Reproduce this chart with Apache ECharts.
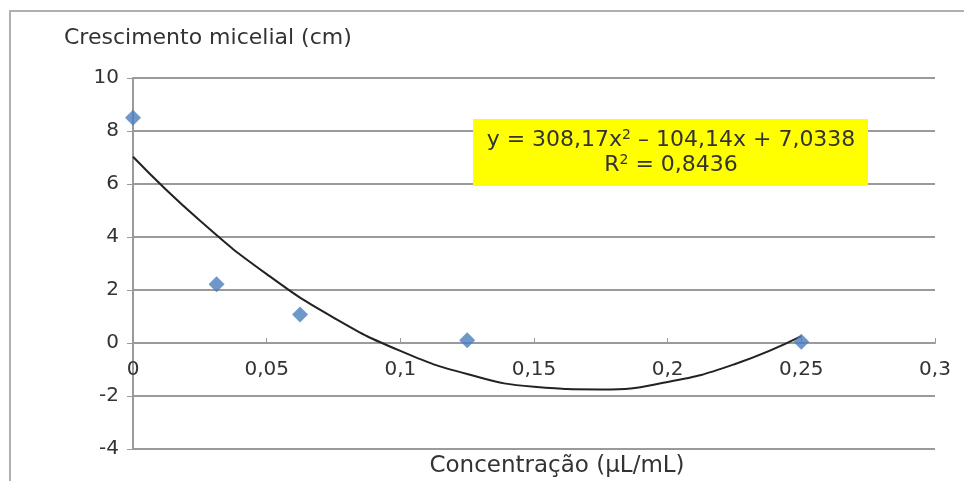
<!DOCTYPE html>
<html><head><meta charset="utf-8">
<script src="https://cdn.jsdelivr.net/npm/echarts@6/dist/echarts.min.js"></script>
<style>html,body{margin:0;padding:0;background:#fff}#c{width:964px;height:481px}</style>
</head><body><div id="c"></div>
<script>
// Observed data points
var concX = [0, 0.03125, 0.0625, 0.125, 0.25];
var growthY = [8.5, 2.22, 1.08, 0.1, 0.05];
// Trend line
var trendX = [0, 0.025, 0.05, 0.075, 0.1, 0.125, 0.15, 0.175, 0.2, 0.225, 0.25];
var trendY = [7.03, 4.62, 2.6, 0.96, -0.3, -1.17, -1.65, -1.75, -1.47, -0.8, 0.26];
var xTicks = [0, 0.05, 0.1, 0.15, 0.2, 0.25, 0.3];
var yTicks = [-4, -2, 0, 2, 4, 6, 8, 10];
var yTitle = 'Crescimento micelial (cm)';
var xTitle = 'Concentração (µL/mL)';
var eqLine1 = 'y = 308,17x';
var eqLine1b = ' – 104,14x + 7,0338';
var eqLine2 = 'R';
var eqLine2b = ' = 0,8436';

var font = '"DejaVu Sans", Verdana, sans-serif';
var scatterData = concX.map(function (x, i) { return [x, growthY[i]]; });
var trendData = trendX.map(function (x, i) { return [x, trendY[i]]; });

var chart = echarts.init(document.getElementById('c'));
chart.setOption({
  animation: false,
  backgroundColor: '#fff',
  grid: { left: 133, right: 29, top: 78, bottom: 32, containLabel: false },
  xAxis: {
    type: 'value', min: xTicks[0], max: xTicks[xTicks.length - 1], interval: 0.05,
    axisLine: { onZero: true, lineStyle: { color: '#9a9a9a', width: 2 } },
    axisTick: { show: true, inside: true, length: 5, lineStyle: { color: '#9a9a9a' } },
    splitLine: { show: false },
    axisLabel: {
      color: '#333', fontFamily: font, fontSize: 20, margin: -89,
      formatter: function (v) { return String(+v.toFixed(2)).replace('.', ','); }
    }
  },
  yAxis: {
    type: 'value', min: yTicks[0], max: yTicks[yTicks.length - 1], interval: 2,
    axisLine: { show: true, lineStyle: { color: '#9a9a9a', width: 2 } },
    axisTick: { show: true, length: 6, lineStyle: { color: '#9a9a9a' } },
    splitLine: { show: true, lineStyle: { color: '#9a9a9a', width: 2 } },
    axisLabel: { color: '#333', fontFamily: font, fontSize: 20, margin: 14 }
  },
  series: [
    {
      type: 'line', data: trendData, smooth: true, symbol: 'none',
      lineStyle: { color: '#222', width: 2 }, z: 3
    },
    {
      type: 'scatter', data: scatterData, symbol: 'diamond', symbolSize: 16,
      itemStyle: { color: '#4a7ebb' }, z: 4
    }
  ],
  graphic: [
    { type: 'rect', shape: { x: 10, y: 11, width: 980, height: 500 },
      style: { fill: 'none', stroke: '#b0b0b0', lineWidth: 2 }, silent: true, z: -10 },
    { type: 'text', x: 64, y: 38,
      style: { text: yTitle, fill: '#333', font: '22px ' + font, verticalAlign: 'middle' } },
    { type: 'text', x: 557, y: 466,
      style: { text: xTitle, fill: '#333', font: '23px ' + font, align: 'center', verticalAlign: 'middle' } },
    { type: 'rect', shape: { x: 473, y: 119, width: 395, height: 67 },
      style: { fill: '#ffff00' }, z: 10 },
    { type: 'text', x: 671, y: 153, z: 11,
      style: {
        text: '{a|' + eqLine1 + '}{s|2}{a|' + eqLine1b + '}\n{a|' + eqLine2 + '}{s|2}{a|' + eqLine2b + '}',
        align: 'center', verticalAlign: 'middle', fill: '#333', lineHeight: 25,
        rich: {
          a: { fontFamily: font, fontSize: 22, fill: '#333', lineHeight: 25 },
          s: { fontFamily: font, fontSize: 14, fill: '#333', verticalAlign: 'top', lineHeight: 14 }
        }
      } }
  ]
});
</script></body></html>
